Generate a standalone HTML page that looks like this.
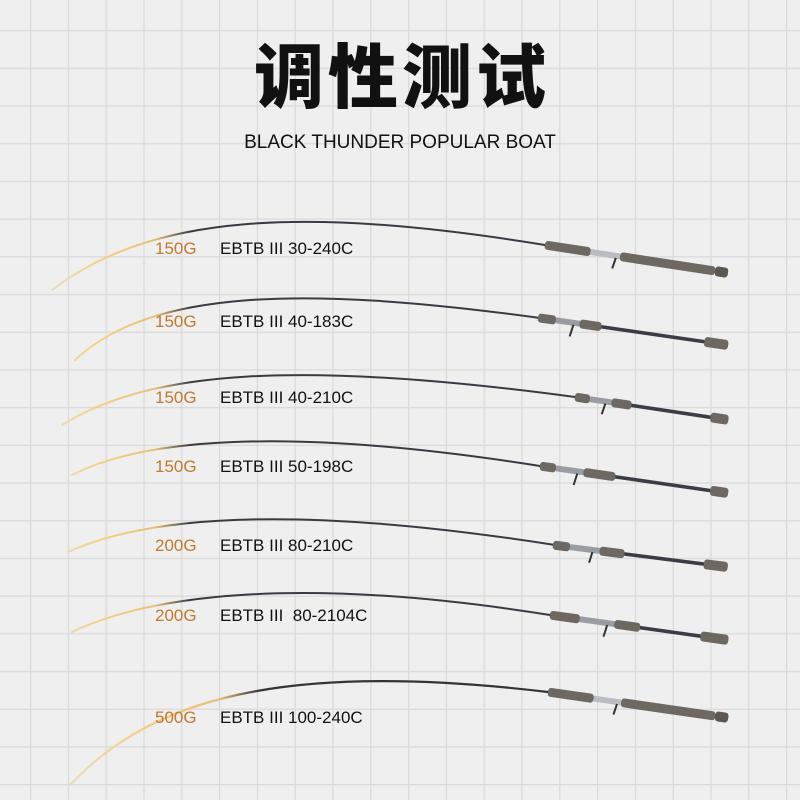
<!DOCTYPE html>
<html><head><meta charset="utf-8"><style>
body{margin:0;width:800px;height:800px;overflow:hidden;background:#efefef}
svg{display:block}
</style></head><body>
<svg width="800" height="800" viewBox="0 0 800 800" xmlns="http://www.w3.org/2000/svg">
<defs>
<pattern id="g" x="30" y="30" width="37.8" height="37.7" patternUnits="userSpaceOnUse">
<path d="M0 0H37.8M0 0V37.7" stroke="#dadada" stroke-width="2.5" fill="none"/>
</pattern>
<linearGradient id="tipg" gradientUnits="userSpaceOnUse" x1="50" y1="0" x2="190" y2="0">
<stop offset="0" stop-color="#e8dcc4"/><stop offset="0.35" stop-color="#f6cf86"/><stop offset="0.75" stop-color="#e9c07a"/><stop offset="1" stop-color="#3a3a42"/>
</linearGradient>
<linearGradient id="tipg7" gradientUnits="userSpaceOnUse" x1="60" y1="0" x2="260" y2="0">
<stop offset="0" stop-color="#e8dcc4"/><stop offset="0.4" stop-color="#f6cf86"/><stop offset="0.8" stop-color="#e6bd7a"/><stop offset="1" stop-color="#33333a"/>
</linearGradient>
</defs>
<rect width="800" height="800" fill="#efefef"/>
<rect width="800" height="800" fill="url(#g)"/>

<text x="402" y="102" text-anchor="middle" font-family="'Liberation Sans','Noto Sans CJK SC',sans-serif" font-weight="900" font-size="70" letter-spacing="4" fill="#111">调性测试</text>
<text x="400" y="148" text-anchor="middle" font-family="'Liberation Sans',sans-serif" font-size="19" fill="#111">BLACK THUNDER POPULAR BOAT</text>

<g fill="none" stroke-linecap="round">
<path d="M52 290 C150 215 300 205 545 245" stroke="url(#tipg)" stroke-width="2"/>
<path d="M75 360 C150 290 300 285 540 318" stroke="url(#tipg)" stroke-width="2"/>
<path d="M62 425 C150 370 300 360 575 397" stroke="url(#tipg)" stroke-width="2"/>
<path d="M72 475 C140 440 280 425 540 466" stroke="url(#tipg)" stroke-width="2"/>
<path d="M68 552 C150 515 300 505 555 545" stroke="url(#tipg)" stroke-width="2"/>
<path d="M72 632 C150 595 300 575 550 615" stroke="url(#tipg)" stroke-width="2"/>
<path d="M70 785 C150 700 280 660 548 692" stroke="url(#tipg7)" stroke-width="2.2"/>
</g>

<g transform="translate(545,245) rotate(8.7)">
<rect x="0" y="-1.8" width="185" height="3.6" fill="#3a3c48"/>
<rect x="0" y="-4.5" width="46" height="9" rx="3" fill="#6e6862"/>
<rect x="46" y="-3" width="30" height="6" fill="#b9bcc2"/><path d="M72 2 L70 13" stroke="#333" stroke-width="2"/>
<rect x="76" y="-4.5" width="96" height="9" rx="3" fill="#6e6862"/>
<rect x="172" y="-5" width="13" height="10" rx="3" fill="#5d5752"/>
</g>
<g transform="translate(540,318) rotate(8.2)">
<rect x="0" y="-1.8" width="190" height="3.6" fill="#3a3c48"/>
<rect x="-2" y="-4.5" width="18" height="9" rx="3" fill="#6e6862"/>
<rect x="16" y="-3" width="24" height="6" fill="#9a9ca4"/><path d="M34 2 L32 14" stroke="#333" stroke-width="2"/>
<rect x="40" y="-4.5" width="22" height="9" rx="3" fill="#6e6862"/>
<rect x="166" y="-5" width="24" height="10" rx="3" fill="#6e6862"/>
</g>
<g transform="translate(575,397) rotate(8.5)">
<rect x="0" y="-1.8" width="155" height="3.6" fill="#3a3c48"/>
<rect x="0" y="-4.5" width="15" height="9" rx="3" fill="#6e6862"/>
<rect x="15" y="-3" width="22" height="6" fill="#9a9ca4"/><path d="M31 2 L29 13" stroke="#333" stroke-width="2"/>
<rect x="37" y="-4.5" width="20" height="9" rx="3" fill="#6e6862"/>
<rect x="137" y="-5" width="18" height="10" rx="3" fill="#6e6862"/>
</g>
<g transform="translate(540,466) rotate(8.2)">
<rect x="0" y="-1.8" width="190" height="3.6" fill="#3a3c48"/>
<rect x="0" y="-4.5" width="16" height="9" rx="3" fill="#6e6862"/>
<rect x="16" y="-3" width="28" height="6" fill="#9a9ca4"/><path d="M38 2 L36 14" stroke="#333" stroke-width="2"/>
<rect x="44" y="-4.5" width="32" height="9" rx="3" fill="#6e6862"/>
<rect x="172" y="-5" width="18" height="10" rx="3" fill="#6e6862"/>
</g>
<g transform="translate(553,545) rotate(7.2)">
<rect x="0" y="-1.8" width="176" height="3.6" fill="#3a3c48"/>
<rect x="0" y="-4.5" width="17" height="9" rx="3" fill="#6e6862"/>
<rect x="17" y="-3" width="30" height="6" fill="#9a9ca4"/><path d="M40 2 L38 13" stroke="#333" stroke-width="2"/>
<rect x="47" y="-4.5" width="25" height="9" rx="3" fill="#6e6862"/>
<rect x="152" y="-5" width="24" height="10" rx="3" fill="#6e6862"/>
</g>
<g transform="translate(550,615) rotate(8)">
<rect x="0" y="-1.8" width="180" height="3.6" fill="#3a3c48"/>
<rect x="0" y="-4.5" width="30" height="9" rx="3" fill="#6e6862"/>
<rect x="30" y="-3" width="35" height="6" fill="#9a9ca4"/><path d="M58 2 L56 14" stroke="#333" stroke-width="2"/>
<rect x="65" y="-4.5" width="26" height="9" rx="3" fill="#6e6862"/>
<rect x="152" y="-5" width="28" height="10" rx="3" fill="#6e6862"/>
</g>
<g transform="translate(548,692) rotate(8.2)">
<rect x="0" y="-1.8" width="182" height="3.6" fill="#3a3c48"/>
<rect x="0" y="-4.5" width="46" height="9" rx="3" fill="#6e6862"/>
<rect x="46" y="-3" width="28" height="6" fill="#b9bcc2"/><path d="M70 2 L68 13" stroke="#333" stroke-width="2"/>
<rect x="74" y="-4.5" width="95" height="9" rx="3" fill="#6e6862"/>
<rect x="169" y="-5" width="13" height="10" rx="3" fill="#5d5752"/>
</g>

<g font-family="'Liberation Sans',sans-serif" font-size="17">
<g fill="#c07a30">
<text x="155" y="254">150G</text>
<text x="155" y="327">150G</text>
<text x="155" y="403">150G</text>
<text x="155" y="472">150G</text>
<text x="155" y="551">200G</text>
<text x="155" y="621">200G</text>
<text x="155" y="723">500G</text>
</g>
<g fill="#111">
<text x="220" y="254">EBTB III 30-240C</text>
<text x="220" y="327">EBTB III 40-183C</text>
<text x="220" y="403">EBTB III 40-210C</text>
<text x="220" y="472">EBTB III 50-198C</text>
<text x="220" y="551">EBTB III 80-210C</text>
<text x="220" y="621" xml:space="preserve">EBTB III  80-2104C</text>
<text x="220" y="723">EBTB III 100-240C</text>
</g>
</g>
</svg>
</body></html>
